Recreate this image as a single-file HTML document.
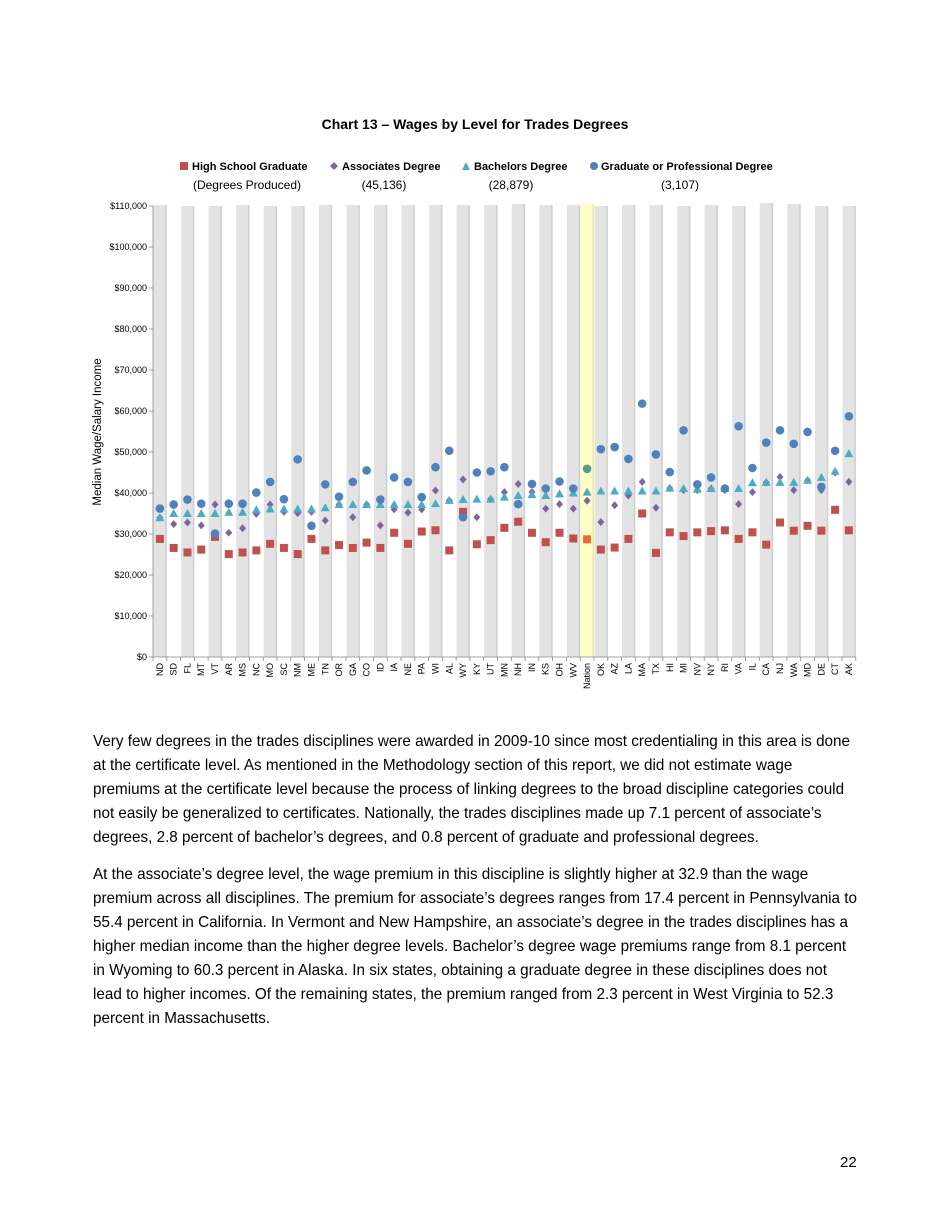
<!DOCTYPE html>
<html><head><meta charset="utf-8">
<style>
html,body{margin:0;padding:0;background:#fff;}
body{width:950px;height:1230px;position:relative;overflow:hidden;font-family:"Liberation Sans",sans-serif;color:#000;}
.p{position:absolute;left:93px;font-size:15.25px;line-height:24px;white-space:nowrap;}
.pg{position:absolute;left:840px;top:1154px;font-size:15px;}
</style></head><body>
<svg id="c" width="950" height="700" style="position:absolute;left:0;top:0" font-family="Liberation Sans, sans-serif">
<text x="475" y="129" text-anchor="middle" font-size="14" font-weight="bold">Chart 13 – Wages by Level for Trades Degrees</text>
<rect x="180" y="162" width="8" height="8" fill="#c0504d"/>
<text x="192" y="170" font-size="11" font-weight="bold">High School Graduate</text>
<path d="M334,162 L338,166 L334,170 L330,166Z" fill="#8064a2"/>
<text x="342" y="170" font-size="11" font-weight="bold">Associates Degree</text>
<path d="M466,162 L470,170 L462,170Z" fill="#4bacc6"/>
<text x="474" y="170" font-size="11" font-weight="bold">Bachelors Degree</text>
<circle cx="594" cy="166" r="4" fill="#4f81bd"/>
<text x="601" y="170" font-size="11" font-weight="bold">Graduate or Professional Degree</text>
<text x="247" y="189" font-size="12" text-anchor="middle">(Degrees Produced)</text>
<text x="384" y="189" font-size="12" text-anchor="middle">(45,136)</text>
<text x="511" y="189" font-size="12" text-anchor="middle">(28,879)</text>
<text x="680" y="189" font-size="12" text-anchor="middle">(3,107)</text>
<text transform="translate(101,432) rotate(-90)" font-size="11.5" text-anchor="middle">Median Wage/Salary Income</text>
<g id="g"></g>
</svg>
<div class="p" style="top:730px">Very few degrees in the trades disciplines were awarded in 2009-10 since most credentialing in this area is done<br>at the certificate level. As mentioned in the Methodology section of this report, we did not estimate wage<br>premiums at the certificate level because the process of linking degrees to the broad discipline categories could<br>not easily be generalized to certificates. Nationally, the trades disciplines made up 7.1 percent of associate’s<br>degrees, 2.8 percent of bachelor’s degrees, and 0.8 percent of graduate and professional degrees.</div>
<div class="p" style="top:863px">At the associate’s degree level, the wage premium in this discipline is slightly higher at 32.9 than the wage<br>premium across all disciplines. The premium for associate’s degrees ranges from 17.4 percent in Pennsylvania to<br>55.4 percent in California. In Vermont and New Hampshire, an associate’s degree in the trades disciplines has a<br>higher median income than the higher degree levels. Bachelor’s degree wage premiums range from 8.1 percent<br>in Wyoming to 60.3 percent in Alaska. In six states, obtaining a graduate degree in these disciplines does not<br>lead to higher incomes. Of the remaining states, the premium ranged from 2.3 percent in West Virginia to 52.3<br>percent in Massachusetts.</div>
<div class="pg">22</div>
<script>
var L="ND SD FL MT VT AR MS NC MO SC NM ME TN OR GA CO ID IA NE PA WI AL WY KY UT MN NH IN KS OH WV Nation OK AZ LA MA TX HI MI NV NY RI VA IL CA NJ WA MD DE CT AK".split(" ");
var D=[[36.2,34.0,34.0,28.8],[37.2,35.0,32.4,26.6],[38.4,35.0,32.8,25.5],[37.4,35.0,32.1,26.2],[30.1,35.0,37.2,29.3],[37.4,35.3,30.3,25.1],[37.4,35.3,31.4,25.5],[40.1,35.9,34.9,26.0],[42.7,36.1,37.2,27.6],[38.5,36.1,35.4,26.6],[48.2,36.1,35.1,25.1],[32.0,36.1,35.4,28.8],[42.1,36.4,33.3,26.0],[39.1,37.2,37.2,27.3],[42.7,37.2,34.1,26.6],[45.5,37.2,37.2,27.9],[38.4,37.2,32.1,26.6],[43.8,37.2,36.0,30.3],[42.7,37.2,35.2,27.6],[39.0,37.2,36.0,30.6],[46.3,37.4,40.6,30.9],[50.3,38.2,38.2,26.0],[34.1,38.4,43.3,35.4],[45.0,38.5,34.1,27.5],[45.3,38.5,38.5,28.5],[46.3,39.0,40.2,31.5],[37.3,39.4,42.2,33.0],[42.2,39.6,40.2,30.3],[41.1,39.4,36.2,28.0],[42.8,39.8,37.3,30.3],[41.1,40.0,36.2,28.9],[45.9,40.2,38.1,28.7],[50.7,40.5,32.9,26.2],[51.2,40.5,37.0,26.7],[48.3,40.5,39.4,28.8],[61.8,40.5,42.7,35.0],[49.4,40.5,36.4,25.4],[45.1,41.2,41.2,30.4],[55.3,41.1,40.7,29.5],[42.1,40.9,40.7,30.4],[43.8,41.1,41.1,30.7],[41.1,41.1,40.7,30.9],[56.3,41.1,37.3,28.8],[46.1,42.5,40.2,30.4],[52.3,42.6,42.6,27.4],[55.3,42.6,43.9,32.8],[52.0,42.6,40.7,30.8],[54.9,43.1,43.1,32.0],[41.5,43.8,40.7,30.8],[50.3,45.3,45.0,35.9],[58.7,49.6,42.7,30.9]];
var s="",X0=153,W=13.78,Y0=657,K=4.1;
function y(v){return Y0-v*K;}
var tops=[205,205,206,206,206,206,205,205,206,206,206,206,205,206,205,203,205,206,205,205,205,205,205,204,205,203,204,204,205,205,205,205,206,205,205,205,205,206,206,204,205,205,206,205,203,205,204,205,206,205,206];
for(var i=0;i<51;i++){var x=X0+i*W;
 if(i==31){s+='<rect x="'+(x+0.5)+'" y="204" width="'+(W-0.5)+'" height="'+(Y0-204)+'" fill="#fdfdc4"/><rect x="'+(x+W-1.5)+'" y="204" width="1.5" height="'+(Y0-204)+'" fill="#e8e8a8"/>';}
 else if(i%2==0){s+='<rect x="'+(x+0.5)+'" y="'+tops[i]+'" width="'+(W-0.5)+'" height="'+(Y0-tops[i])+'" fill="#e3e3e3"/><rect x="'+(x+W-1.5)+'" y="'+tops[i]+'" width="1.5" height="'+(Y0-tops[i])+'" fill="#cfcfcf"/>';}
}
for(var k=0;k<=11;k++){var yy=Y0-k*10*K;var lab="$"+(k==0?"0":(k*10)+",000");
 s+='<text x="147" y="'+(yy+3)+'" font-size="9" text-anchor="end">'+lab+'</text><line x1="149" x2="153" y1="'+yy+'" y2="'+yy+'" stroke="#888" stroke-width="0.8"/>';}
s+='<line x1="153" x2="153" y1="206" y2="657" stroke="#888" stroke-width="0.8"/><line x1="153" x2="'+(X0+51*W)+'" y1="657" y2="657" stroke="#888" stroke-width="0.8"/>';
for(var i=0;i<=51;i++){var x=X0+i*W;s+='<line x1="'+x+'" x2="'+x+'" y1="657" y2="661" stroke="#888" stroke-width="0.8"/>';}
for(var i=0;i<51;i++){var cx=X0+i*W+W/2,d=D[i];
 var sc=i==31?"#e07030":"#c0504d",cc=i==31?"#5a9a8a":"#4f81bd";
 s+='<rect x="'+(cx-4)+'" y="'+(y(d[3])-4)+'" width="8" height="8" fill="'+sc+'"/>';
 var dy=y(d[2]);s+='<path d="M'+cx+','+(dy-4)+' L'+(cx+3.5)+','+dy+' L'+cx+','+(dy+4)+' L'+(cx-3.5)+','+dy+'Z" fill="#8064a2"/>';
 var ty=y(d[1]);s+='<path d="M'+cx+','+(ty-4.5)+' L'+(cx+4.5)+','+(ty+3.5)+' L'+(cx-4.5)+','+(ty+3.5)+'Z" fill="#4bacc6"/>';
 s+='<circle cx="'+cx+'" cy="'+y(d[0])+'" r="4.3" fill="'+cc+'"/>';
 s+='<text transform="translate('+(cx+3)+',663) rotate(-90)" font-size="9" text-anchor="end">'+L[i]+'</text>';
}
document.getElementById("g").innerHTML=s;
</script>
</body></html>
